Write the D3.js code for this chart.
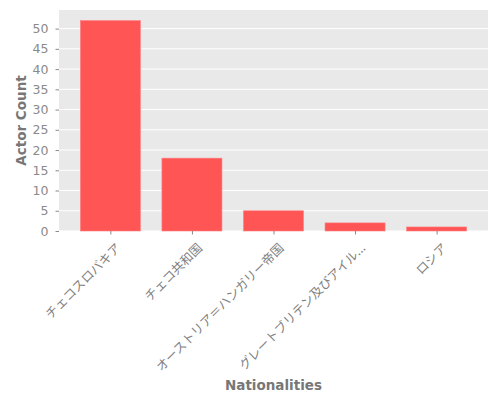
<!DOCTYPE html>
<html><head><meta charset="utf-8">
<script src="https://cdn.jsdelivr.net/npm/d3@7"></script>
<style>body{margin:0;background:#fff}</style>
</head><body>
<svg id="c" width="500" height="400"></svg>
<script>
const categories = ["チェコスロバキア","チェコ共和国","オーストリア＝ハンガリー帝国","グレートブリテン及びアイル...","ロシア"];
const values = [52, 18, 5, 2, 1];
const yTicks = [0,5,10,15,20,25,30,35,40,45,50];

const svg = d3.select("#c");
const L = 59, R = 488, T = 10, B = 231;
const x = d3.scaleLinear().domain([-0.63, categories.length - 1 + 0.63]).range([L, R]);
const y = d3.scaleLinear().domain([0, 54.6]).range([B, T]);
const bw = 0.736;
const font = "'DejaVu Sans','Noto Sans CJK JP',sans-serif";
const gray = "#8a8a8a";

svg.append("rect").attr("x", L).attr("y", T).attr("width", R - L).attr("height", B - T).attr("fill", "#E9E9E9");

svg.append("g").selectAll("line").data(yTicks).join("line")
  .attr("x1", L).attr("x2", R).attr("y1", d => y(d)).attr("y2", d => y(d))
  .attr("stroke", "#fff").attr("stroke-width", 1);

svg.append("g").selectAll("rect").data(values).join("rect")
  .attr("x", (d, i) => x(i - bw / 2)).attr("width", x(bw) - x(0))
  .attr("y", d => y(d)).attr("height", d => B - y(d))
  .attr("fill", "#FF5555").attr("stroke", "#FF8080").attr("stroke-width", 0.6);

const ya = d3.axisLeft(y).tickValues(yTicks).tickSize(3.5).tickPadding(7);
const gy = svg.append("g").attr("transform", `translate(${L},0)`).call(ya);
gy.select(".domain").remove();
gy.selectAll("line").attr("stroke", gray);
gy.selectAll("text").attr("fill", gray).attr("font-family", font).attr("font-size", 12.5);

const xa = d3.axisBottom(x).tickValues(d3.range(categories.length)).tickFormat(i => categories[i]).tickSize(3.5);
const gx = svg.append("g").attr("transform", `translate(0,${B})`).call(xa);
gx.select(".domain").remove();
gx.selectAll("line").attr("stroke", gray);
gx.selectAll("text").attr("fill", "#808080").attr("font-family", "'Noto Sans CJK JP',sans-serif")
  .attr("font-size", 12.5)
  .attr("text-anchor", "end").attr("dy", "0.35em")
  .attr("transform", "translate(3,10) rotate(-45)");

svg.append("text").attr("x", (L + R) / 2).attr("y", 390).attr("text-anchor", "middle")
  .attr("fill", "#777").attr("font-family", font).attr("font-size", 13.5).attr("font-weight", "bold").text("Nationalities");
svg.append("text").attr("transform", `translate(26,${(T + B) / 2}) rotate(-90)`).attr("text-anchor", "middle")
  .attr("fill", "#777").attr("font-family", font).attr("font-size", 13.5).attr("font-weight", "bold").text("Actor Count");
</script>
</body></html>
